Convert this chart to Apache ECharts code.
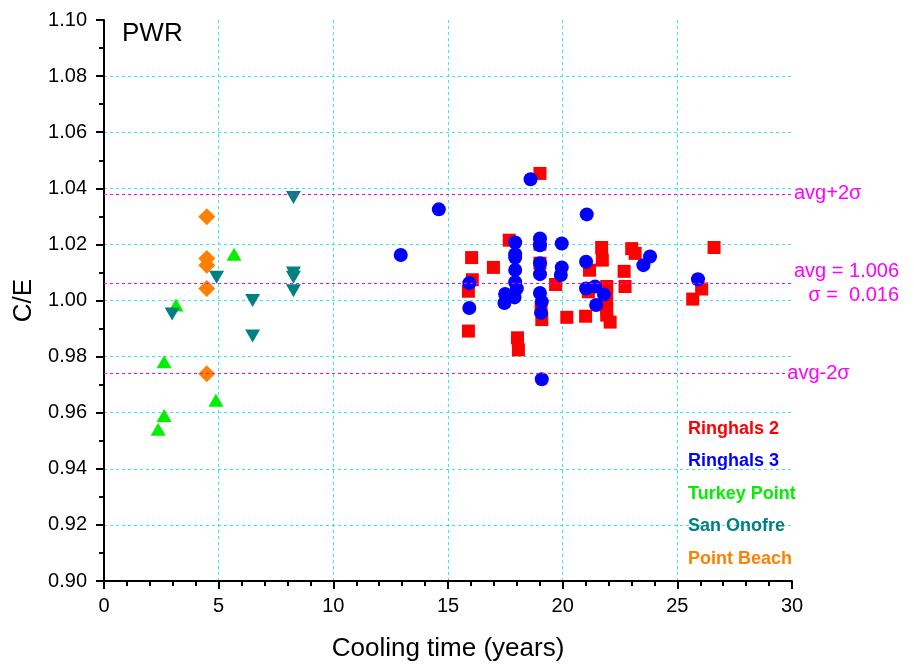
<!DOCTYPE html>
<html>
<head>
<meta charset="utf-8">
<script src="https://cdn.jsdelivr.net/npm/echarts@6/dist/echarts.min.js"></script>
<style>
html,body{margin:0;padding:0;background:#fff;}
#chart{width:914px;height:667px;}
</style>
</head>
<body>
<div id="chart"></div>
<script>
// ---- data ----
var ringhals2 = [
  [19.01,1.0453],[17.67,1.0215],[16.03,1.0153],[16.98,1.0118],[16.06,1.0074],[15.89,1.0033],
  [15.89,0.9891],[18.03,0.9867],[18.07,0.9824],[19.01,1.0201],[19.01,1.0133],[19.06,0.9970],
  [19.09,0.9932],[19.69,1.0057],[21.70,1.0189],[21.73,1.0144],[21.17,1.0108],[23.01,1.0185],
  [23.16,1.0168],[22.68,1.0104],[22.72,1.0050],[21.12,1.0031],[21.92,1.0050],[21.92,1.0005],
  [21.92,0.9970],[20.18,0.9940],[21.00,0.9944],[21.92,0.9948],[22.07,0.9923],[26.60,1.0189],
  [26.06,1.0041],[25.67,1.0005]
];
var ringhals3 = [
  [12.94,1.0162],[14.60,1.0325],[18.60,1.0432],[15.93,1.0062],[15.93,0.9973],[17.49,1.0023],
  [17.46,0.9991],[17.93,1.0207],[17.93,1.0165],[17.93,1.0153],[17.93,1.0109],[17.93,1.0065],
  [18.00,1.0043],[17.90,1.0011],[19.01,1.0221],[19.01,1.0197],[19.01,1.0133],[19.01,1.0094],
  [19.01,1.0027],[19.09,0.9996],[19.06,0.9956],[19.09,0.9719],[19.96,1.0203],[19.96,1.0118],
  [19.92,1.0091],[21.05,1.0307],[21.02,1.0138],[21.02,1.0043],[21.41,1.0050],[21.80,1.0021],
  [21.46,0.9984],[23.81,1.0157],[23.52,1.0126],[25.90,1.0076]
];
var turkeyPoint = [
  [5.67,1.0165],[3.14,0.9984],[2.62,0.9782],[4.88,0.9644],[2.62,0.9590],[2.36,0.9541]
];
var sanOnofre = [
  [8.26,1.0367],[8.26,1.0098],[8.26,1.0083],[8.26,1.0035],[4.91,1.0083],[6.48,1.0000],
  [2.97,0.9952],[6.48,0.9873]
];
var pointBeach = [
  [4.48,1.0299],[4.48,1.0150],[4.48,1.0126],[4.48,1.0043],[4.48,0.9739]
];
var avgValue = 1.006;
var sigmaValue = 0.016;
var avgPlus2s = 1.038;
var avgMinus2s = 0.974;
var xTicks = [0,5,10,15,20,25,30];
var yTicks = [0.90,0.92,0.94,0.96,0.98,1.00,1.02,1.04,1.06,1.08,1.10];

var FONT = '"Liberation Sans", Arial, sans-serif';
var MAG = '#FF00FF';
var GRIDC = '#33E8F0';
var chart = echarts.init(document.getElementById('chart'), null, {renderer:'canvas'});

var magLabel = {show:true, position:'end', color:MAG, fontSize:20, fontFamily:FONT, distance:2};

var option = {
  backgroundColor: '#fff',
  animation: false,
  grid: {left:104, right:122, top:20, bottom:84, containLabel:false},
  xAxis: {
    type: 'value', min: xTicks[0], max: xTicks[xTicks.length-1], interval: 5,
    name: 'Cooling time (years)', nameLocation: 'middle', nameGap: 55,
    nameTextStyle: {fontSize: 26, fontFamily: FONT, color: '#000'},
    axisLine: {show:true, onZero:false, lineStyle:{color:'#000', width:2}},
    axisTick: {show:true, inside:false, length:8, lineStyle:{color:'#000', width:2}},
    minorTick: {show:true, splitNumber:5, length:5, lineStyle:{color:'#000', width:2}},
    axisLabel: {fontSize: 20, fontFamily: FONT, color:'#000', margin: 15},
    splitLine: {show:true, showMinLine:false, showMaxLine:false, lineStyle:{color:GRIDC, type:[3,3], width:1}}
  },
  yAxis: {
    type: 'value', min: yTicks[0], max: yTicks[yTicks.length-1], interval: 0.02,
    name: 'C/E', nameLocation: 'middle', nameGap: 64,
    nameTextStyle: {fontSize: 26, fontFamily: FONT, color: '#000'},
    axisLine: {show:true, onZero:false, lineStyle:{color:'#000', width:2}},
    axisTick: {show:true, inside:false, length:8, lineStyle:{color:'#000', width:2}},
    minorTick: {show:true, splitNumber:2, length:5, lineStyle:{color:'#000', width:2}},
    axisLabel: {fontSize: 20, fontFamily: FONT, color:'#000', margin: 17, formatter: function(v){return v.toFixed(2);}},
    splitLine: {show:true, showMinLine:false, showMaxLine:false, lineStyle:{color:GRIDC, type:[3,3], width:1}}
  },
  legend: {
    orient: 'vertical', left: 678, top: 415, itemGap: 14.5, itemWidth: 0, itemHeight: 18,
    selectedMode: false, icon: 'none',
    textStyle: {fontSize: 18, fontWeight: 'bold', fontFamily: FONT},
    data: [
      {name:'Ringhals 2', textStyle:{color:'#FF0000'}},
      {name:'Ringhals 3', textStyle:{color:'#0000FF'}},
      {name:'Turkey Point', textStyle:{color:'#00F000'}},
      {name:'San Onofre', textStyle:{color:'#008080'}},
      {name:'Point Beach', textStyle:{color:'#FF8000'}}
    ]
  },
  graphic: [
    {type:'text', left: 122, top: 21, style:{text:'PWR', fontSize:26, fontFamily:FONT, fill:'#000'}}
  ],
  series: [
    {name:'Ringhals 2', type:'scatter', data: ringhals2, symbol:'rect', symbolSize:13,
     itemStyle:{color:'#FF0000', opacity:1}, z: 3,
     markLine: {
       silent: true, symbol: 'none', animation:false,
       lineStyle: {color: MAG, type: [3,3], width: 1},
       data: [
         [{coord:[0,avgPlus2s], label:Object.assign({}, magLabel, {formatter:'avg+2σ'})},{coord:[30,avgPlus2s]}],
         [{coord:[0,avgValue], label:Object.assign({}, magLabel, {lineHeight:24,
             formatter:'{a|avg = ' + avgValue.toFixed(3) + '}\n{b|σ =  ' + sigmaValue.toFixed(3) + '}',
             rich:{a:{fontSize:20, fontFamily:FONT, color:MAG, lineHeight:24}, b:{fontSize:20, fontFamily:FONT, color:MAG, align:'right', lineHeight:24}}})},{coord:[30,avgValue]}],
         [{coord:[0,avgMinus2s], label:Object.assign({}, magLabel, {distance:1, formatter:'avg-2σ'})},{coord:[29.75,avgMinus2s]}]
       ]
     }
    },
    {name:'Ringhals 3', type:'scatter', data: ringhals3, symbol:'circle', symbolSize:14,
     itemStyle:{color:'#0000FF', opacity:1}, z: 4},
    {name:'Turkey Point', type:'scatter', data: turkeyPoint, symbol:'triangle', symbolSize:[15,13],
     itemStyle:{color:'#00F000', opacity:1}, z: 3},
    {name:'San Onofre', type:'scatter', data: sanOnofre, symbol:'triangle', symbolRotate:180, symbolSize:[15,13],
     itemStyle:{color:'#008080', opacity:1}, z: 4},
    {name:'Point Beach', type:'scatter', data: pointBeach, symbol:'diamond', symbolSize:[17,17],
     itemStyle:{color:'#FF8000', opacity:1}, z: 3}
  ]
};
chart.setOption(option);
</script>
</body>
</html>
